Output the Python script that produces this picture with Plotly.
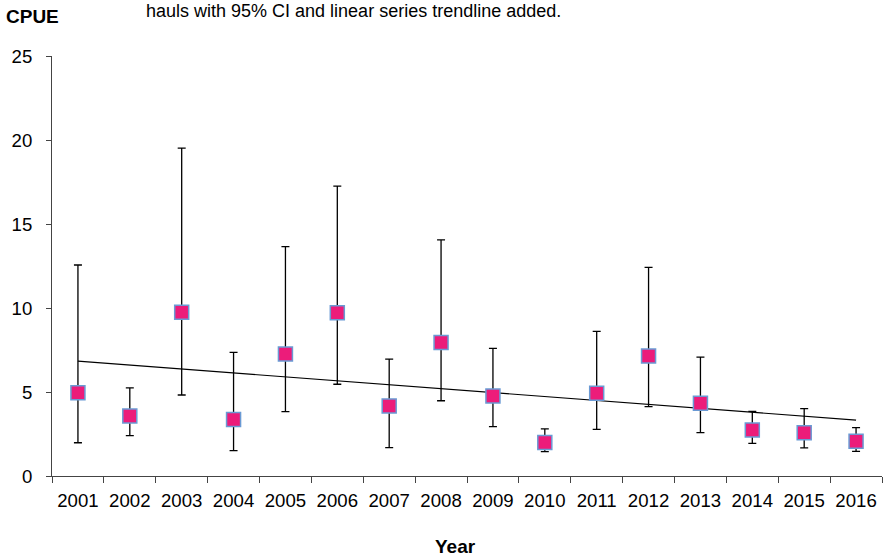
import numpy as np
import plotly.graph_objects as go

years = ["2001", "2002", "2003", "2004", "2005", "2006", "2007", "2008",
         "2009", "2010", "2011", "2012", "2013", "2014", "2015", "2016"]
cpue = [4.96, 3.57, 9.74, 3.37, 7.26, 9.72, 4.17, 7.94,
        4.76, 2.00, 4.92, 7.14, 4.33, 2.74, 2.58, 2.07]
ci_upper = [12.56, 5.24, 19.52, 7.36, 13.65, 17.26, 6.96, 14.05,
            7.60, 2.80, 8.61, 12.42, 7.08, 3.85, 4.01, 2.88]
ci_lower = [1.98, 2.40, 4.82, 1.51, 3.83, 5.46, 1.69, 4.48,
            2.94, 1.45, 2.78, 4.13, 2.58, 1.94, 1.67, 1.47]

err_plus = [u - v for u, v in zip(ci_upper, cpue)]
err_minus = [v - l for v, l in zip(cpue, ci_lower)]

# linear series trendline (least squares over series index)
idx = np.arange(1, len(cpue) + 1)
slope, intercept = np.polyfit(idx, cpue, 1)
trend = slope * idx + intercept

FONT = "Liberation Sans, Arial, sans-serif"

fig = go.Figure()
fig.add_trace(go.Scatter(
    x=years, y=trend, mode="lines",
    line=dict(color="black", width=1.2),
    hoverinfo="skip", showlegend=False,
))
fig.add_trace(go.Scatter(
    x=years, y=cpue, mode="markers",
    marker=dict(symbol="square", size=14, color="#EC1C7A",
                line=dict(color="#6A9AD4", width=1.5)),
    error_y=dict(type="data", symmetric=False, array=err_plus,
                 arrayminus=err_minus, color="black", thickness=1.3, width=4),
    showlegend=False,
))

fig.update_layout(
    width=883, height=558,
    margin=dict(l=52, r=1, t=56, b=82),
    paper_bgcolor="white", plot_bgcolor="white",
    font=dict(family=FONT, size=18, color="black"),
    xaxis=dict(
        type="category", range=[-0.5, 15.5], tickson="boundaries",
        ticks="outside", ticklen=6, tickcolor="#444", tickwidth=1,
        showline=True, linecolor="#444", linewidth=1,
        showgrid=False, zeroline=False, automargin=False,
        tickfont=dict(size=18.6, family=FONT, color="black"),
        ticklabelstandoff=8,
    ),
    yaxis=dict(
        range=[0, 25], dtick=5, tick0=0,
        ticks="outside", ticklen=5, tickcolor="#444", tickwidth=1,
        showline=True, linecolor="#444", linewidth=1,
        showgrid=False, zeroline=False, automargin=False,
        tickfont=dict(size=18.6, family=FONT, color="black"),
        ticklabelstandoff=10,
    ),
    annotations=[
        dict(text="hauls with 95% CI and linear series trendline added.",
             xref="paper", yref="paper", x=0.111, y=1.078,
             xanchor="left", yanchor="bottom", showarrow=False,
             font=dict(size=18, family=FONT, color="black")),
        dict(text="<b>CPUE</b>", xref="paper", yref="paper",
             x=-0.0229, y=1.064, xanchor="center", yanchor="bottom",
             showarrow=False, font=dict(size=19, family=FONT, color="black")),
        dict(text="<b>Year</b>", xref="paper", yref="paper",
             x=0.4867, y=-0.197, xanchor="center", yanchor="bottom",
             showarrow=False, font=dict(size=19, family=FONT, color="black")),
    ],
)

fig.write_html("out.html", config={"displayModeBar": False},
               post_script="document.body.style.margin='0';document.body.style.padding='0';")
